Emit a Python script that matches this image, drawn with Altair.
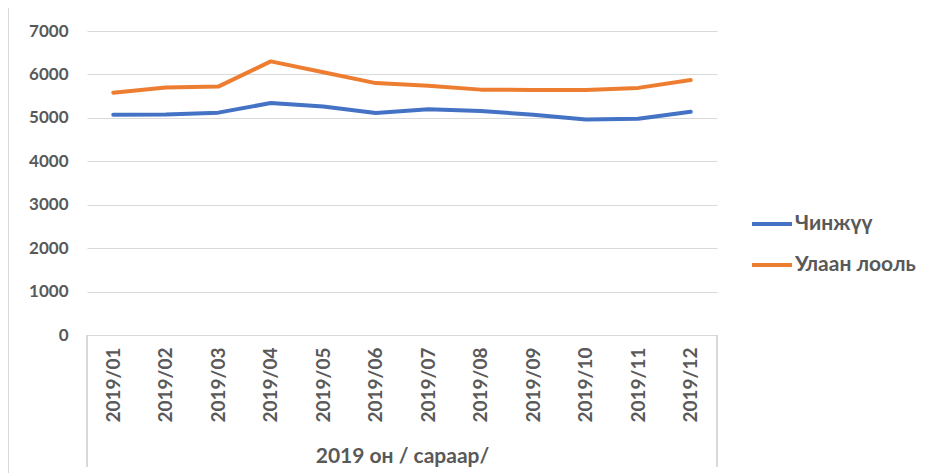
import altair as alt
import pandas as pd

months = ["2019/01", "2019/02", "2019/03", "2019/04", "2019/05", "2019/06",
          "2019/07", "2019/08", "2019/09", "2019/10", "2019/11", "2019/12"]
chinjuu = [5070, 5080, 5120, 5340, 5260, 5110, 5200, 5160, 5070, 4960, 4980, 5140]
ulaan = [5580, 5700, 5720, 6300, 6050, 5800, 5740, 5650, 5640, 5640, 5690, 5870]
series_names = ["Чинжүү", "Улаан лооль"]
series_colors = ["#4472C4", "#ED7D31"]
y_ticks = [0, 1000, 2000, 3000, 4000, 5000, 6000, 7000]
x_title = "2019 он / сараар/"

rows = []
for m, a, b in zip(months, chinjuu, ulaan):
    rows.append({"month": m, "series": series_names[0], "value": a})
    rows.append({"month": m, "series": series_names[1], "value": b})
df = pd.DataFrame(rows)

FONT = "Lato, Open Sans, sans-serif"
GRAY = "#595959"
W, H = 630, 304

lines = alt.Chart(df).mark_line(strokeWidth=4, strokeCap="round", strokeJoin="round").encode(
    x=alt.X("month:N", sort=months, scale=alt.Scale(type="point", padding=0.5),
            axis=alt.Axis(title=x_title, labelAngle=-90, labelAlign="right", labelBaseline="middle",
                          labelPadding=12, ticks=False, domain=True, domainColor="#d9d9d9",
                          titlePadding=24, labelFontSize=19, titleFontSize=21)),
    y=alt.Y("value:Q", scale=alt.Scale(domain=[0, 7000]),
            axis=alt.Axis(title=None, values=y_ticks, format="d", ticks=False, domain=False,
                          labelPadding=19, gridColor="#d9d9d9", labelFontSize=17)),
    color=alt.Color("series:N", sort=series_names,
                    scale=alt.Scale(domain=series_names, range=series_colors),
                    legend=alt.Legend(title=None, orient="none", legendX=663, legendY=171,
                                      symbolType="stroke", symbolSize=1600, symbolStrokeWidth=4,
                                      labelFontSize=21, labelFont=FONT, labelFontWeight="bold",
                                      labelColor=GRAY, rowPadding=9, labelOffset=1, padding=0)),
)

frame_top = alt.Chart(df).mark_rule(color="#d9d9d9", strokeWidth=2).encode(
    x=alt.value(-79), x2=alt.value(840), y=alt.value(-24))
frame_left = alt.Chart(df).mark_rule(color="#d9d9d9", strokeWidth=2).encode(
    x=alt.value(-79), y=alt.value(-24), y2=alt.value(460))
edge_left = alt.Chart(df).mark_rule(color="#d9d9d9", strokeWidth=1.5).encode(
    x=alt.value(0), y=alt.value(H), y2=alt.value(H + 132))
edge_right = alt.Chart(df).mark_rule(color="#d9d9d9", strokeWidth=1.5).encode(
    x=alt.value(W), y=alt.value(H), y2=alt.value(H + 132))

chart = alt.layer(frame_top, frame_left, edge_left, edge_right, lines).properties(
    width=W, height=H,
    autosize=alt.AutoSizeParams(type="none"),
    padding={"left": 79, "top": 23, "right": 204, "bottom": 138},
).configure_view(stroke=None).configure_axis(
    labelFont=FONT, titleFont=FONT, labelFontWeight="bold", titleFontWeight="bold",
    labelColor=GRAY, titleColor=GRAY,
)

chart.save("out.html", embed_options={"renderer": "svg", "actions": False})
